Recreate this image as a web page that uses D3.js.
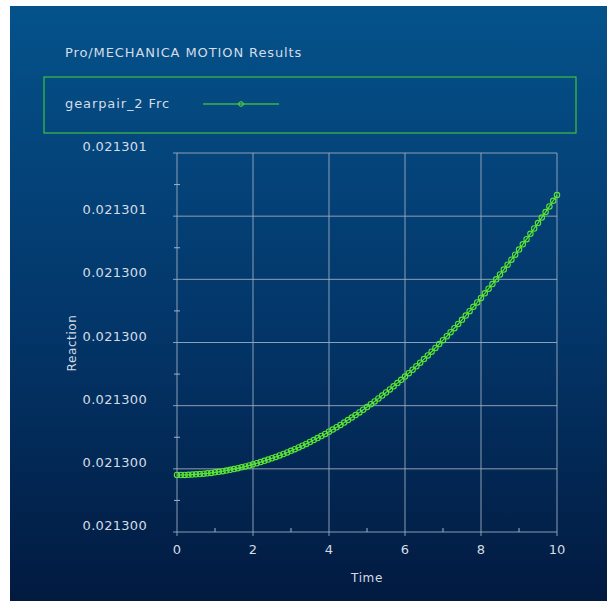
<!DOCTYPE html>
<html>
<head>
<meta charset="utf-8">
<script src="https://cdn.jsdelivr.net/npm/d3@7/dist/d3.min.js"></script>
<style>
  html, body { margin: 0; padding: 0; background: #ffffff; }
  svg { display: block; }
  text { font-family: "DejaVu Sans", sans-serif; fill: #d4dce6; }
</style>
</head>
<body>
<svg id="chart" width="607" height="601"></svg>
<script>
// Simulation output: gear pair reaction force over time
const chartTitle = "Pro/MECHANICA MOTION Results";
const seriesName = "gearpair_2 Frc";
const xLabel = "Time";
const yLabel = "Reaction";

const time = d3.range(0, 101).map(i => i / 10);
const reaction = [
  0.02130009020, 0.02130009024, 0.02130009037, 0.02130009058, 0.02130009087,
  0.02130009125, 0.02130009171, 0.02130009226, 0.02130009289, 0.02130009360,
  0.02130009440, 0.02130009529, 0.02130009626, 0.02130009732, 0.02130009846,
  0.02130009969, 0.02130010100, 0.02130010240, 0.02130010389, 0.02130010546,
  0.02130010712, 0.02130010886, 0.02130011070, 0.02130011262, 0.02130011462,
  0.02130011672, 0.02130011890, 0.02130012116, 0.02130012352, 0.02130012596,
  0.02130012850, 0.02130013112, 0.02130013382, 0.02130013662, 0.02130013951,
  0.02130014248, 0.02130014554, 0.02130014869, 0.02130015194, 0.02130015527,
  0.02130015869, 0.02130016220, 0.02130016580, 0.02130016948, 0.02130017326,
  0.02130017713, 0.02130018109, 0.02130018514, 0.02130018929, 0.02130019352,
  0.02130019784, 0.02130020226, 0.02130020676, 0.02130021136, 0.02130021605,
  0.02130022083, 0.02130022570, 0.02130023067, 0.02130023572, 0.02130024087,
  0.02130024612, 0.02130025145, 0.02130025688, 0.02130026240, 0.02130026801,
  0.02130027372, 0.02130027952, 0.02130028541, 0.02130029140, 0.02130029748,
  0.02130030366, 0.02130030993, 0.02130031629, 0.02130032275, 0.02130032931,
  0.02130033596, 0.02130034270, 0.02130034954, 0.02130035647, 0.02130036350,
  0.02130037063, 0.02130037785, 0.02130038516, 0.02130039257, 0.02130040008,
  0.02130040769, 0.02130041539, 0.02130042319, 0.02130043108, 0.02130043908,
  0.02130044717, 0.02130045535, 0.02130046364, 0.02130047202, 0.02130048050,
  0.02130048907, 0.02130049775, 0.02130050652, 0.02130051539, 0.02130052436,
  0.02130053343
];

const xTicks = [0, 2, 4, 6, 8, 10];
const xTickLabels = ["0", "2", "4", "6", "8", "10"];
const yTicks = [0.0213000, 0.0213001, 0.0213002, 0.0213003, 0.0213004, 0.0213005, 0.0213006];
const yTickLabels = ["0.021300", "0.021300", "0.021300", "0.021300", "0.021300", "0.021301", "0.021301"];

const data = time.map((t, i) => ({ t, v: reaction[i] }));

const svg = d3.select("#chart");
const W = 607, H = 601;

// Backdrop panel with vertical blue gradient
const defs = svg.append("defs");
const grad = defs.append("linearGradient")
  .attr("id", "bg").attr("x1", 0).attr("y1", 0).attr("x2", 0).attr("y2", 1);
grad.append("stop").attr("offset", "0%").attr("stop-color", "#05528b");
grad.append("stop").attr("offset", "55%").attr("stop-color", "#033568");
grad.append("stop").attr("offset", "100%").attr("stop-color", "#021a40");
svg.append("rect").attr("x", 10).attr("y", 6).attr("width", W - 10).attr("height", H - 6)
  .attr("fill", "url(#bg)");

// Plot area
const x = d3.scaleLinear().domain([0, 10]).range([177, 557]);
const y = d3.scaleLinear().domain([0.0213000, 0.0213006]).range([532, 153]);

const gridColor = "#a3b2c4";

// Horizontal grid lines (with short left overhang)
svg.append("g").selectAll("line").data(yTicks).join("line")
  .attr("x1", x(0) - 4).attr("x2", x(10))
  .attr("y1", d => y(d)).attr("y2", d => y(d))
  .attr("stroke", gridColor).attr("stroke-width", 1).attr("opacity", 0.85);

// Vertical grid lines (with short bottom overhang)
svg.append("g").selectAll("line").data(xTicks).join("line")
  .attr("x1", d => x(d)).attr("x2", d => x(d))
  .attr("y1", y(0.0213006)).attr("y2", y(0.0213000) + 4)
  .attr("stroke", gridColor).attr("stroke-width", 1).attr("opacity", 0.85);

// Minor ticks on both axes
const yMinor = d3.range(6).map(i => (yTicks[i] + yTicks[i + 1]) / 2);
svg.append("g").selectAll("line").data(yMinor).join("line")
  .attr("x1", x(0) - 3).attr("x2", x(0) + 3)
  .attr("y1", d => y(d)).attr("y2", d => y(d))
  .attr("stroke", gridColor).attr("stroke-width", 1);
const xMinor = [1, 3, 5, 7, 9];
svg.append("g").selectAll("line").data(xMinor).join("line")
  .attr("x1", d => x(d)).attr("x2", d => x(d))
  .attr("y1", y(0.0213000) - 4).attr("y2", y(0.0213000))
  .attr("stroke", gridColor).attr("stroke-width", 1);

// Tick labels
svg.append("g").selectAll("text").data(yTicks).join("text")
  .attr("x", 147).attr("y", d => y(d) - 2)
  .attr("text-anchor", "end").attr("font-size", 13).attr("letter-spacing", 0.3)
  .text((d, i) => yTickLabels[i]);
svg.append("g").selectAll("text").data(xTicks).join("text")
  .attr("x", d => x(d)).attr("y", 554)
  .attr("text-anchor", "middle").attr("font-size", 13)
  .text((d, i) => xTickLabels[i]);

// Axis titles
svg.append("text").attr("x", 367).attr("y", 582)
  .attr("text-anchor", "middle").attr("font-size", 12).attr("letter-spacing", 0.6).text(xLabel);
svg.append("text")
  .attr("transform", "translate(76,343) rotate(-90)")
  .attr("text-anchor", "middle").attr("font-size", 12).attr("letter-spacing", 0.6).text(yLabel);

// Chart title
svg.append("text").attr("x", 65).attr("y", 57).attr("font-size", 13)
  .attr("letter-spacing", 0.9).text(chartTitle);

// Legend
const green = "#5ae632";
svg.append("rect").attr("x", 44).attr("y", 77).attr("width", 532).attr("height", 56)
  .attr("fill", "none").attr("stroke", "#3cc43c").attr("stroke-width", 1.2);
svg.append("text").attr("x", 65).attr("y", 108).attr("font-size", 13)
  .attr("letter-spacing", 0.9).text(seriesName);
svg.append("line").attr("x1", 203).attr("x2", 279).attr("y1", 104).attr("y2", 104)
  .attr("stroke", green).attr("stroke-width", 1);
svg.append("circle").attr("cx", 241).attr("cy", 104).attr("r", 2.3)
  .attr("fill", "none").attr("stroke", green).attr("stroke-width", 1);

// Series line and markers
const line = d3.line().x(d => x(d.t)).y(d => y(d.v));
svg.append("path").datum(data).attr("d", line)
  .attr("fill", "none").attr("stroke", green).attr("stroke-width", 1.2);
svg.append("g").selectAll("circle").data(data).join("circle")
  .attr("cx", d => x(d.t)).attr("cy", d => y(d.v)).attr("r", 2.7)
  .attr("fill", "none").attr("stroke", green).attr("stroke-width", 1.1);
</script>
</body>
</html>
